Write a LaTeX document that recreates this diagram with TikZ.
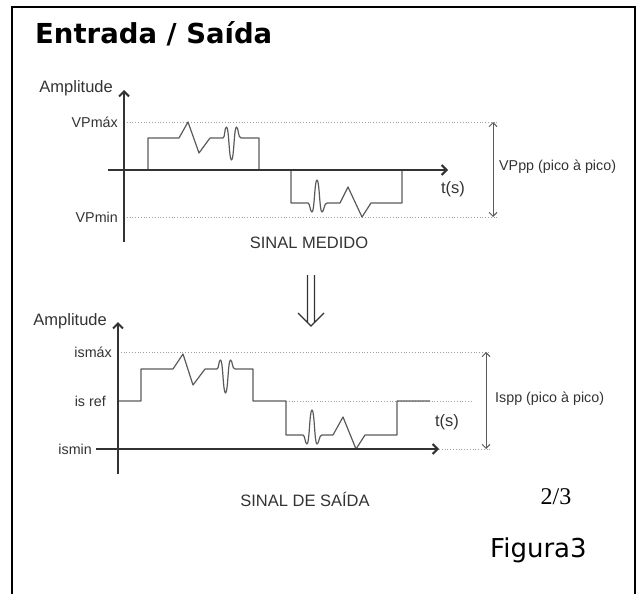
\documentclass[tikz,border=0pt]{standalone}
\usepackage{fontspec}
\setmainfont{Liberation Sans}
\newfontfamily\titlefont{DejaVu Sans}
\newfontfamily\numfont{Liberation Serif}
\usetikzlibrary{arrows.meta}
\definecolor{axisgray}{HTML}{333333}
\definecolor{wavegray}{HTML}{5A5A5A}
\definecolor{dotgray}{HTML}{A0A0A0}

\begin{document}
\begin{tikzpicture}[
        x=1pt, y=-1pt,
        every node/.append style={font=\fontsize{16.5}{18}\selectfont, text=axisgray, inner sep=0pt}
    ]
    \tikzstyle{axis}=[draw=axisgray,line width=2pt,-{Straight Barb[length=5pt,width=10pt]}];
    \tikzstyle{wave}=[draw=wavegray,line width=1.2pt,line join=round];
    \tikzstyle{lvl}=[draw=dotgray,line width=0.8pt,dotted];
    \tikzstyle{span}=[draw=wavegray,line width=1pt,{Straight Barb[length=4pt,width=8pt]}-{Straight Barb[length=4pt,width=8pt]}];
    \tikzstyle{tick}=[anchor=east,font=\fontsize{14.3}{16}\selectfont];
    \tikzstyle{pp}=[anchor=west,font=\fontsize{14.3}{16}\selectfont];
    \useasboundingbox (0,0) rectangle (637,594);
    % frame
    \draw[line width=2.5pt] (12,594) -- (12,7) -- (635,7) -- (635,594);
    \node[anchor=base west,font=\titlefont\bfseries\fontsize{27.5}{29}\selectfont,text=black] (title) at (35,44) {Entrada / Saída};
    % top
    \coordinate (ya0) at (124,242);
    \coordinate (ya1) at (124,90);
    \coordinate (xa0) at (108,170);
    \coordinate (xa1) at (448,170);
    \node[anchor=east] (amp1) at (113,88) {Amplitude};
    \node[tick] (vmax) at (118,122) {VPmáx};
    \node[tick] (vmin) at (118,217) {VPmin};
    \coordinate (vmaxr) at (497,122);
    \coordinate (vminr) at (497,217);
    \draw[lvl] (ya0 |- vmaxr) -- (vmaxr);
    \draw[lvl] (ya0 |- vminr) -- (vminr);
    \draw[span] ([xshift=-4pt]vmaxr) -- ([xshift=-4pt]vminr);
    \node[pp] (vpp) at (499,167) {VPpp (pico à pico)};
    \node (ts1) at (453,189) {t(s)};
    \node (med) at (309,243) {SINAL MEDIDO};
    \draw[wave] (148,170) -- (148,138) -- (179,138) -- (188,122) -- (199,153) -- (210,138) -- (223,138)
        .. controls (225,138) and (224.5,127) .. (226.5,127)
        .. controls (229,127) and (229,160) .. (231.5,160)
        .. controls (234,160) and (234,127) .. (236.5,127)
        .. controls (238.5,127) and (238,138) .. (241,138)
        -- (259,138) -- (259,170);
    \draw[wave] (291,170) -- (291,203) -- (308,203)
        .. controls (310,203) and (310,212) .. (312,212)
        .. controls (314.5,212) and (314.5,180) .. (317,180)
        .. controls (319.5,180) and (319.5,212) .. (322,212)
        .. controls (324,212) and (324,203) .. (327,203)
        -- (340,203) -- (348,187) -- (362,217) -- (371,203) -- (402,203) -- (402,170);
    \draw[axis] (ya0) -- (ya1);
    \draw[axis] (xa0) -- (xa1);
    % down arrow
    \draw[draw=axisgray,line width=1.3pt] (307.5,275) -- (307.5,322.5) (314.5,275) -- (314.5,322.5)
        (298,313) -- (311,326) -- (324,313);
    % bottom
    \coordinate (yb0) at (118,474);
    \coordinate (yb1) at (118,322);
    \coordinate (xb0) at (96,449);
    \coordinate (xb1) at (439,449);
    \node[anchor=east] (amp2) at (107,321) {Amplitude};
    \node[tick] (imax) at (112,352) {ismáx};
    \node[tick] (iref) at (106,401) {is ref};
    \node[tick] (imin) at (92,449) {ismin};
    \coordinate (imaxr) at (490,352);
    \coordinate (iminr) at (490,449);
    \draw[lvl] (yb0 |- imaxr) -- (imaxr);
    \draw[lvl] (286,401) -- (473,401);
    \draw[lvl] (xb1) -- (iminr);
    \draw[span] ([xshift=-4pt]imaxr) -- ([xshift=-4pt]iminr);
    \node[pp] (ispp) at (495,399) {Ispp (pico à pico)};
    \node (ts2) at (447,422) {t(s)};
    \node (sai) at (305,499) {SINAL DE SAÍDA};
    \draw[wave] (118,401) -- (141,401) -- (141,369) -- (173,369) -- (183,354) -- (193,385) -- (205,369) -- (217,369)
        .. controls (219,369) and (218.5,360) .. (220.5,360)
        .. controls (223,360) and (223,393) .. (225.5,393)
        .. controls (228,393) and (228,360) .. (230.5,360)
        .. controls (232.5,360) and (232,369) .. (235,369)
        -- (253,369) -- (253,401) -- (286,401) -- (286,435) -- (303,435)
        .. controls (305,435) and (305,444) .. (307,444)
        .. controls (309.5,444) and (309.5,410) .. (312,410)
        .. controls (314.5,410) and (314.5,444) .. (317,444)
        .. controls (319,444) and (319,435) .. (322,435)
        -- (333,435) -- (343,417) -- (356,449) -- (365,435) -- (397,435) -- (397,401) -- (430,401);
    \draw[axis] (yb0) -- (yb1);
    \draw[axis] (xb0) -- (xb1);
    % page and figure
    \node[font=\numfont\fontsize{24}{26}\selectfont,text=black] (pg) at (556,497) {2/3};
    \node[anchor=west,font=\titlefont\fontsize{26}{28}\selectfont,text=black] (fig) at (490,550) {Figura3};
\end{tikzpicture}
\end{document}
